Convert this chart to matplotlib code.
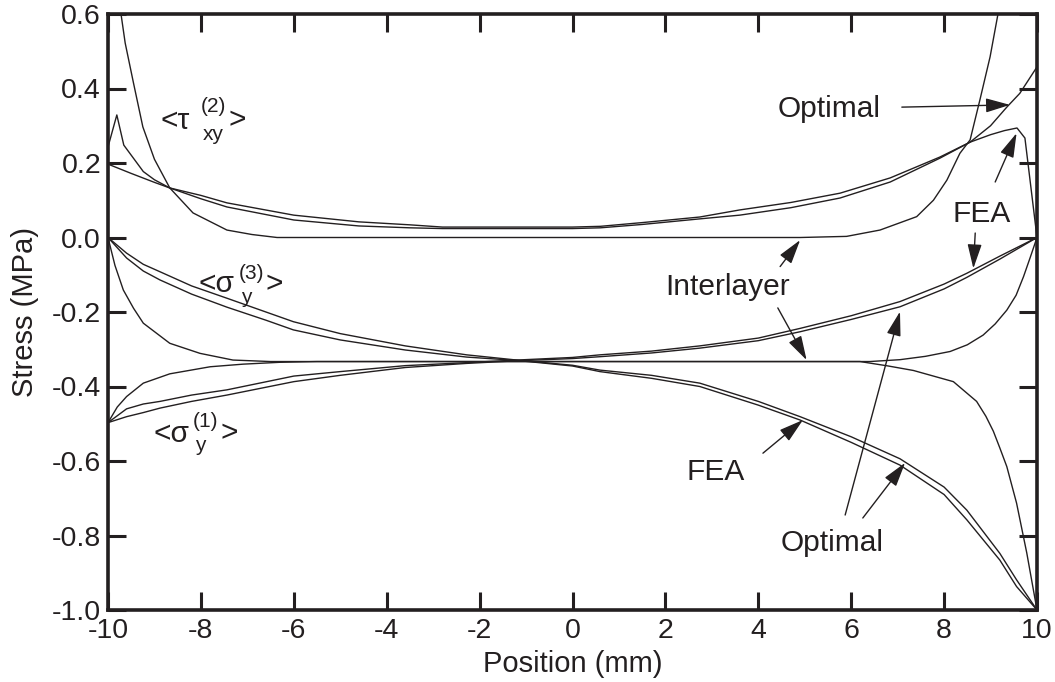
import matplotlib
matplotlib.use("Agg")
import matplotlib.pyplot as plt

plt.rcParams['font.family'] = ['Liberation Sans', 'DejaVu Sans']
plt.rcParams['axes.unicode_minus'] = False

INK = '#231f20'

# ---- shear stress <tau_xy^(2)> ----
tau_opt_x = [-10, -9.5, -9.0, -8.67, -8.0, -7.44, -6.0, -4.6, -3.5, -2.8, -2.0, -1.0, 0.0,
             0.6, 1.5, 2.74, 3.6, 4.7, 5.76, 6.84, 7.91, 8.56, 9.0, 9.35, 9.63, 10]
tau_opt_y = [0.197, 0.172, 0.148, 0.133, 0.104, 0.082, 0.047, 0.031, 0.026, 0.024, 0.024, 0.024, 0.024,
             0.026, 0.035, 0.050, 0.060, 0.080, 0.106, 0.149, 0.213, 0.256, 0.300, 0.350, 0.387, 0.458]

tau_fea_x = [-10, -9.81, -9.66, -9.24, -9.0, -8.67, -8.0, -7.44, -6.0, -4.6, -3.5, -2.8, -2.0, -1.0, 0.0,
             0.6, 1.5, 2.74, 3.6, 4.7, 5.76, 6.84, 7.91, 8.56, 9.0, 9.3, 9.57, 9.74, 10]
tau_fea_y = [0.243, 0.329, 0.248, 0.177, 0.155, 0.133, 0.113, 0.093, 0.060, 0.042, 0.034, 0.028, 0.028, 0.028, 0.028,
             0.030, 0.040, 0.055, 0.074, 0.094, 0.119, 0.160, 0.216, 0.256, 0.276, 0.287, 0.294, 0.267, 0.0]

tau_int_x = [-10, -9.72, -9.63, -9.45, -9.25, -9.0, -8.67, -8.17, -7.44, -6.9, -6.36, 4.9,
             5.9, 6.62, 7.41, 7.77, 8.06, 8.34, 8.56, 8.77, 8.99, 9.16, 9.4]
tau_int_y = [0.88, 0.60, 0.522, 0.414, 0.297, 0.21, 0.133, 0.066, 0.020, 0.008, 0.0, 0.0,
             0.003, 0.020, 0.056, 0.100, 0.154, 0.226, 0.262, 0.369, 0.485, 0.600, 0.78]

# ---- normal stress starting at 0 (<sigma_y^(3)>) ----
sig3_fea_x = [-10, -9.6, -9.24, -8.88, -8.2, -7.44, -6.6, -6.01, -5.0, -3.6, -2.28, -1.2, 0.0,
              0.59, 1.7, 2.74, 4.0, 4.9, 6.0, 7.05, 8.0, 8.49, 9.2, 9.56, 10]
sig3_fea_y = [0.0, -0.042, -0.072, -0.092, -0.130, -0.163, -0.200, -0.226, -0.258, -0.291, -0.315, -0.329, -0.343,
              -0.356, -0.370, -0.391, -0.440, -0.481, -0.535, -0.594, -0.670, -0.732, -0.848, -0.919, -1.0]

sig3_opt_x = [-10, -9.6, -9.24, -8.88, -8.2, -7.44, -6.6, -6.01, -5.0, -3.6, -2.28, -1.2, 0.0,
              0.59, 1.7, 2.74, 4.0, 4.9, 6.0, 7.05, 8.0, 8.49, 9.2, 9.56, 10]
sig3_opt_y = [0.0, -0.055, -0.090, -0.114, -0.152, -0.187, -0.222, -0.248, -0.275, -0.302, -0.321, -0.330, -0.345,
              -0.360, -0.378, -0.400, -0.450, -0.490, -0.550, -0.611, -0.690, -0.758, -0.866, -0.937, -1.0]

sig3_int_x = [-10, -9.85, -9.67, -9.45, -9.24, -8.67, -8.02, -7.31, -6.5, 6.19, 6.8, 7.34, 8.2, 8.7,
              8.9, 9.06, 9.2, 9.35, 9.56, 9.78, 10]
sig3_int_y = [0.0, -0.075, -0.141, -0.190, -0.230, -0.284, -0.311, -0.329, -0.333, -0.333, -0.345, -0.357,
              -0.387, -0.440, -0.480, -0.520, -0.565, -0.615, -0.713, -0.847, -1.0]

# ---- normal stress starting at -0.5 (<sigma_y^(1)>) ----
sig1_fea_x = [-10, -9.6, -9.24, -8.88, -8.2, -7.44, -6.0, -5.0, -3.6, -2.28, -1.2, 0.0, 0.59, 1.7,
              2.74, 4.0, 4.9, 6.0, 7.05, 8.0, 8.49, 9.2, 10]
sig1_fea_y = [-0.497, -0.460, -0.447, -0.440, -0.423, -0.409, -0.372, -0.360, -0.344, -0.336, -0.329, -0.322,
              -0.315, -0.305, -0.291, -0.270, -0.244, -0.210, -0.172, -0.125, -0.096, -0.050, 0.0]

sig1_opt_x = [-10, -9.6, -9.24, -8.88, -8.2, -7.44, -6.0, -5.0, -3.6, -2.28, -1.2, 0.0, 0.59, 1.7,
              2.74, 4.0, 4.9, 6.0, 7.05, 8.0, 8.49, 9.2, 10]
sig1_opt_y = [-0.497, -0.481, -0.470, -0.458, -0.440, -0.423, -0.387, -0.370, -0.349, -0.338, -0.331, -0.325,
              -0.320, -0.310, -0.297, -0.277, -0.253, -0.220, -0.186, -0.138, -0.107, -0.058, 0.0]

sig1_int_x = [-10, -9.8, -9.6, -9.24, -8.67, -7.8, -7.09, -6.3, -5.5, 6.4, 7.05, 7.6, 8.13, 8.5,
              8.84, 9.1, 9.35, 9.55, 9.71, 9.85, 10]
sig1_int_y = [-0.497, -0.455, -0.427, -0.391, -0.366, -0.347, -0.340, -0.335, -0.333, -0.333, -0.328, -0.319,
              -0.306, -0.288, -0.262, -0.232, -0.195, -0.155, -0.105, -0.055, 0.0]

x_ticks = [-10, -8, -6, -4, -2, 0, 2, 4, 6, 8, 10]
y_ticks = [0.6, 0.4, 0.2, 0.0, -0.2, -0.4, -0.6, -0.8, -1.0]

fig = plt.figure(figsize=(10.55, 6.82), dpi=100)
ax = fig.add_axes([108 / 1055, 72 / 682, 929 / 1055, 596 / 682])

curves = [(tau_opt_x, tau_opt_y), (tau_fea_x, tau_fea_y), (tau_int_x, tau_int_y),
          (sig3_fea_x, sig3_fea_y), (sig3_opt_x, sig3_opt_y), (sig3_int_x, sig3_int_y),
          (sig1_fea_x, sig1_fea_y), (sig1_opt_x, sig1_opt_y), (sig1_int_x, sig1_int_y)]
for cx, cy in curves:
    ax.plot(cx, cy, color=INK, lw=1.0, solid_joinstyle='round')

ax.set_xlim(-10, 10)
ax.set_ylim(-1.0, 0.6)
ax.set_xticks(x_ticks)
ax.set_yticks(y_ticks)
ax.set_xticklabels([str(t) for t in x_ticks])
ax.set_yticklabels([f'{t:.1f}' for t in y_ticks])
ax.tick_params(direction='in', length=13, width=2.2, color=INK, labelsize=20.5,
               labelcolor=INK, top=True, right=True)
ax.tick_params(axis='y', pad=5)
ax.tick_params(axis='x', pad=6)
for s in ax.spines.values():
    s.set_linewidth(2.6)
    s.set_color(INK)

ax.set_xlabel('Position (mm)', fontsize=21, color=INK, labelpad=4)
ax.set_ylabel('Stress (MPa)', fontsize=21, color=INK, labelpad=9)

TXT = 21.5


def label(x, y, s, size=TXT):
    ax.text(x, y, s, fontsize=size, color=INK, ha='left', va='baseline')


def arrow(x0, y0, x1, y1):
    ax.annotate('', xy=(x1, y1), xytext=(x0, y0),
                arrowprops=dict(arrowstyle='-|>,head_length=0.75,head_width=0.22',
                                color=INK, lw=1.0, shrinkA=0, shrinkB=0,
                                mutation_scale=20))


# stacked sub/superscript labels
def stress_label(x, y, sym, sup, sub, x_sup, y_sup, y_sub, x_close):
    label(x, y, '<' + sym)
    label(x_sup, y_sup, sup, size=15)
    label(x_sup + 0.05, y_sub, sub, size=15)
    label(x_close, y, '>')


stress_label(-8.88, 0.292, 'τ', '(2)', 'xy', -8.0, 0.338, 0.263, -7.4)
stress_label(-8.06, -0.147, 'σ', '(3)', 'y', -7.18, -0.112, -0.175, -6.62)
stress_label(-9.03, -0.548, 'σ', '(1)', 'y', -8.18, -0.508, -0.572, -7.58)

label(4.42, 0.324, 'Optimal')
arrow(7.09, 0.350, 9.42, 0.356)

label(8.19, 0.042, 'FEA')
arrow(9.10, 0.149, 9.56, 0.280)
arrow(8.67, 0.012, 8.63, -0.083)

label(1.99, -0.154, 'Interlayer')
arrow(4.47, -0.078, 4.90, -0.007)
arrow(4.42, -0.189, 5.04, -0.329)

label(2.46, -0.651, 'FEA')
arrow(4.10, -0.579, 4.96, -0.490)

label(4.47, -0.842, 'Optimal')
arrow(5.87, -0.745, 7.05, -0.199)
arrow(6.25, -0.753, 7.16, -0.605)

fig.savefig('out.png', dpi=100)
